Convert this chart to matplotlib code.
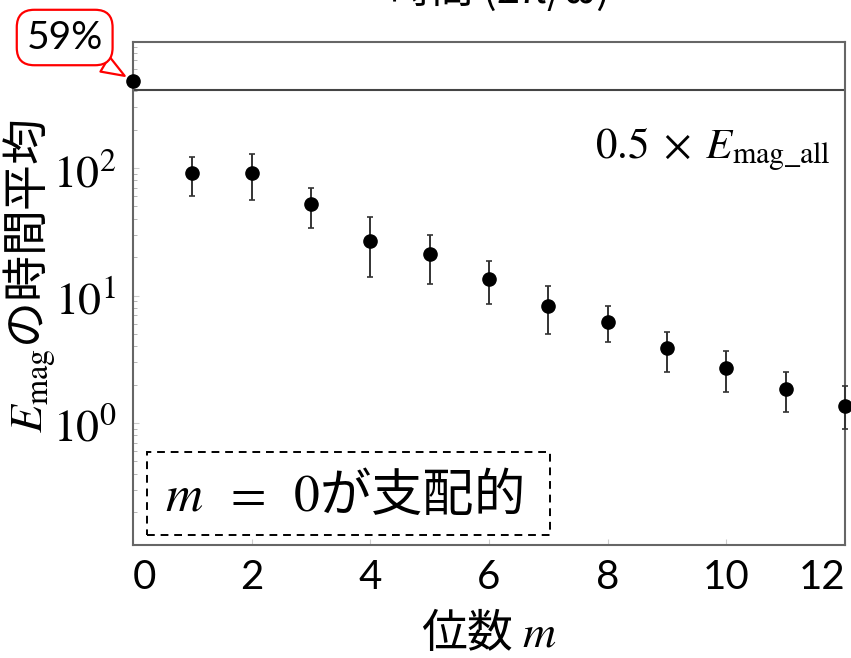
import matplotlib
matplotlib.use("Agg")
import matplotlib.pyplot as plt
from matplotlib.patches import Rectangle
import numpy as np

plt.rcParams["font.family"] = ["Noto Sans CJK JP", "DejaVu Sans"]
plt.rcParams["mathtext.fontset"] = "stix"

# time-averaged magnetic energy per azimuthal mode
m = np.arange(13)
e_mag = [484, 91, 91, 52, 27, 21, 13.5, 8.2, 6.25, 3.9, 2.7, 1.85, 1.36]
e_low = [484, 60, 56, 34, 14, 12.3, 8.6, 5.0, 4.3, 2.5, 1.75, 1.22, 0.9]
e_high = [484, 122, 129, 70, 41, 30, 18.7, 11.8, 8.3, 5.2, 3.7, 2.5, 1.95]
e_mag_all = 820
share_m0 = "59%"
xticks = [0, 2, 4, 6, 8, 10, 12]

fig = plt.figure(figsize=(8.51, 6.58), dpi=100)
ax = fig.add_axes([0.1563, 0.1717, 0.8367, 0.7643])

yerr = [np.array(e_mag) - np.array(e_low), np.array(e_high) - np.array(e_mag)]
eb = ax.errorbar(m, e_mag, yerr=yerr, fmt="o", color="black", markersize=9.5,
                 ecolor="#333333", elinewidth=1.4, capsize=2.5, capthick=1.2,
                 clip_on=False, zorder=3)
for artist in eb.lines[1] + eb.lines[2]:
    artist.set_clip_on(False)

ax.axhline(0.5 * e_mag_all, color="#444444", lw=1.5, zorder=2)

ax.set_yscale("log")
ax.set_xlim(0, 12)
ax.set_ylim(0.11, 975)

for s in ax.spines.values():
    s.set_color("#666666")
    s.set_linewidth(1.5)

ax.set_xticks(xticks)
ax.set_xticklabels([str(v) for v in xticks], fontfamily="Lato", fontsize=29)
labels = ax.get_xticklabels()
labels[0].set_ha("left")
labels[-1].set_ha("right")
ax.set_yticks([1, 10, 100])
ax.set_yticklabels([r"$10^{0}$", r"$10^{1}$", r"$10^{2}$"], fontsize=33)
ax.tick_params(axis="both", which="major", direction="in", length=4,
               color="#cccccc", pad=10)
ax.tick_params(axis="y", which="minor", direction="in", length=3, color="#aaaaaa")
ax.tick_params(axis="y", which="major", pad=12)

ax.set_xlabel(r"位数 $m$", fontsize=33, labelpad=10)
ax.set_ylabel(r"$E_{\mathrm{mag}}$の時間平均", fontsize=33)
ax.yaxis.set_label_coords(-0.107, 0.535)

ax.text(0.979, 0.785, r"$0.5\;\times\;E_{\mathrm{mag\_all}}$", transform=ax.transAxes,
        ha="right", va="center", fontsize=31)

# dashed annotation box
ax.add_patch(Rectangle((0.02, 0.02), 0.566, 0.165, transform=ax.transAxes,
                       fill=False, ls=(0, (4, 3)), lw=1.4, ec="black", zorder=4))
ax.text(0.045, 0.098, r"$m\;\;=\;\;0$が支配的", transform=ax.transAxes,
        ha="left", va="center", fontsize=37)

# speech-bubble callout for the m = 0 share
ax.annotate(share_m0, xy=(0, e_mag[0]), xycoords="data",
            xytext=(0.076, 0.943), textcoords="figure fraction",
            ha="center", va="center", fontsize=28, fontfamily="Lato",
            bbox=dict(boxstyle="round,pad=0.25,rounding_size=0.45", fc="white",
                      ec="red", lw=1.6),
            arrowprops=dict(arrowstyle="wedge,tail_width=0.45", fc="white",
                            ec="red", lw=1.6, shrinkA=0, shrinkB=7,
                            relpos=(0.8, 0.05)),
            annotation_clip=False, zorder=5)

fig.text(0.588, 1 - 12 / 658, "時間 (2π/ω)", ha="center", va="bottom", fontsize=30)

fig.savefig("out.png", dpi=100)
